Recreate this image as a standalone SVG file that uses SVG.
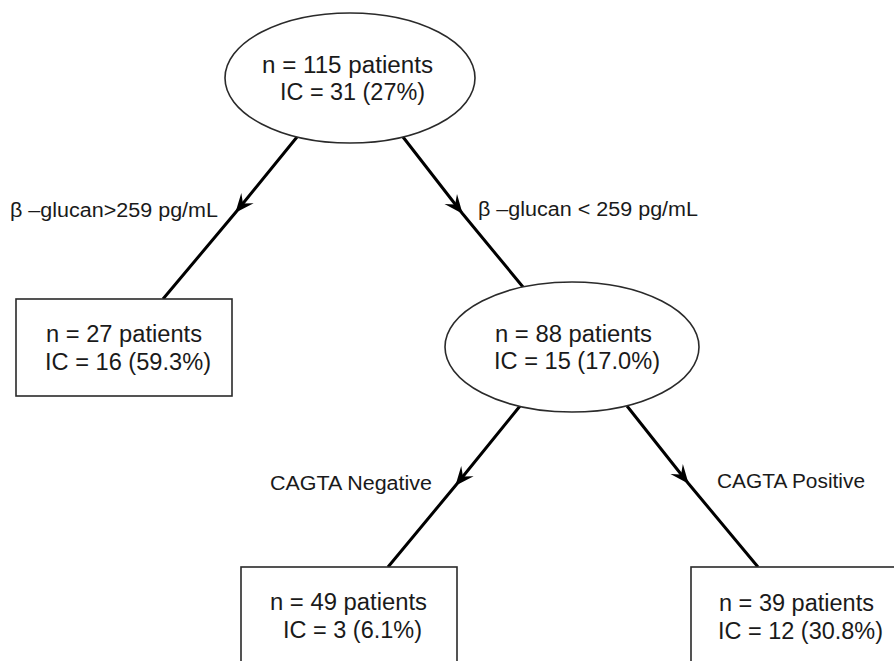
<svg xmlns="http://www.w3.org/2000/svg" width="894" height="661" viewBox="0 0 894 661">
<style>
.shape{fill:#fff;stroke:#2a2a2a;stroke-width:1.6}
.edge{fill:none;stroke:#000;stroke-width:3;marker-mid:url(#arr)}
.t{font-family:"Liberation Sans",Arial,Helvetica,sans-serif;font-size:23px;fill:#1a1a1a}
.lbl{font-family:"Liberation Sans",Arial,Helvetica,sans-serif;font-size:20px;fill:#1a1a1a}
</style>
<defs>
<marker id="arr" viewBox="-20 -9 22 18" markerWidth="22" markerHeight="18" refX="0" refY="0" orient="auto" markerUnits="userSpaceOnUse">
<path d="M1,0 L-18,-8 L-11,0 L-18,8 Z" fill="#000"/>
</marker>
</defs>
<rect width="894" height="661" fill="#fff"/>
<g id="connectors">
<path class="edge" d="M297,137 L236,212 L163,299"/>
<path class="edge" d="M403,137 L462,213 L523,287"/>
<path class="edge" d="M520,406 L456,485 L388,567"/>
<path class="edge" d="M627,406 L688,483 L758,567"/>
<text class="lbl" x="10" y="217" textLength="208" lengthAdjust="spacingAndGlyphs">β –glucan&gt;259 pg/mL</text>
<text class="lbl" x="478" y="216" textLength="220" lengthAdjust="spacingAndGlyphs">β –glucan &lt; 259 pg/mL</text>
<text class="lbl" x="270" y="490" textLength="162" lengthAdjust="spacingAndGlyphs">CAGTA Negative</text>
<text class="lbl" x="717" y="488" textLength="148" lengthAdjust="spacingAndGlyphs">CAGTA Positive</text>
</g>
<g id="root">
<ellipse class="shape" cx="350" cy="78" rx="125" ry="65"/>
<text class="t" x="262" y="73" textLength="171" lengthAdjust="spacingAndGlyphs">n = 115 patients</text>
<text class="t" x="280" y="100" textLength="145" lengthAdjust="spacingAndGlyphs">IC = 31 (27%)</text>
</g>
<g id="n27">
<rect class="shape" x="16" y="299" width="216" height="97"/>
<text class="t" x="46" y="342" textLength="156" lengthAdjust="spacingAndGlyphs">n = 27 patients</text>
<text class="t" x="45" y="370" textLength="166" lengthAdjust="spacingAndGlyphs">IC = 16 (59.3%)</text>
</g>
<g id="n88">
<ellipse class="shape" cx="572" cy="347" rx="127" ry="65"/>
<text class="t" x="495" y="342" textLength="157" lengthAdjust="spacingAndGlyphs">n = 88 patients</text>
<text class="t" x="494" y="369" textLength="166" lengthAdjust="spacingAndGlyphs">IC = 15 (17.0%)</text>
</g>
<g id="n49">
<rect class="shape" x="241" y="567" width="216" height="110"/>
<text class="t" x="270" y="610" textLength="157" lengthAdjust="spacingAndGlyphs">n = 49 patients</text>
<text class="t" x="283" y="638" textLength="139" lengthAdjust="spacingAndGlyphs">IC = 3 (6.1%)</text>
</g>
<g id="n39">
<rect class="shape" x="691" y="567" width="216" height="110"/>
<text class="t" x="719" y="611" textLength="155" lengthAdjust="spacingAndGlyphs">n = 39 patients</text>
<text class="t" x="718" y="639" textLength="165" lengthAdjust="spacingAndGlyphs">IC = 12 (30.8%)</text>
</g>
</svg>
